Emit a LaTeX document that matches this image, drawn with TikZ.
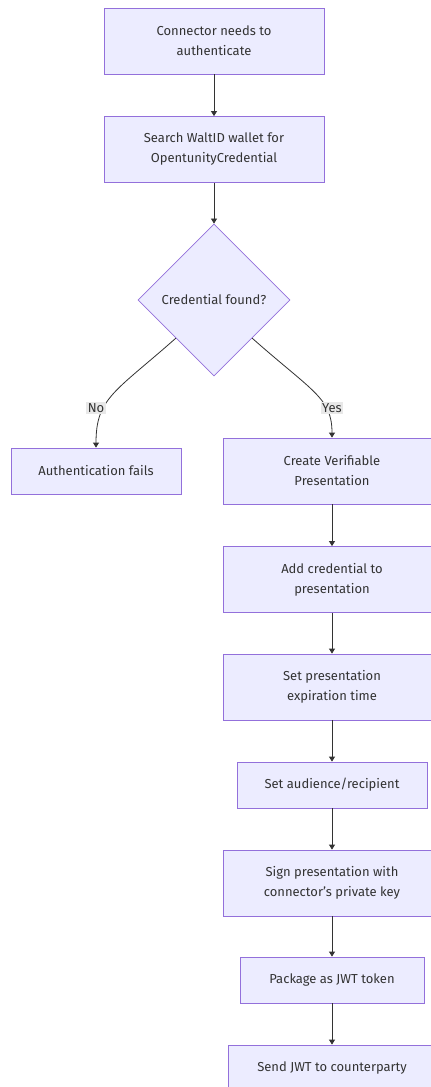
\documentclass[tikz,border=0pt]{standalone}
\usepackage{fontspec}
\setmainfont{Fira Sans}
\usetikzlibrary{shapes.geometric,arrows.meta}
\definecolor{nodefill}{HTML}{ECECFF}
\definecolor{nodeline}{HTML}{9370DB}
\definecolor{ink}{HTML}{333333}
\definecolor{labelbg}{HTML}{E8E8E8}
\tikzset{
  stepbox/.style={draw=nodeline, fill=nodefill, line width=0.8pt, rectangle,
    align=center, text=ink, inner sep=0pt,
    font=\fontsize{13}{20}\selectfont},
  decision/.style={draw=nodeline, fill=nodefill, line width=0.8pt, diamond,
    aspect=1, minimum width=152pt, minimum height=152pt, inner sep=0pt,
    text=ink, font=\fontsize{13}{20}\selectfont},
  flow/.style={draw=ink, line width=0.8pt,
    -{Triangle[length=5pt,width=6pt]}},
  edgelabel/.style={fill=labelbg, text=ink, inner sep=1.5pt,
    font=\fontsize{13}{15}\selectfont}
}
\begin{document}
\begin{tikzpicture}[x=1pt,y=-1pt]
\useasboundingbox (0,0) rectangle (431,1087);
\fill[white] (0,0) rectangle (431,1087);
\clip (0,0) rectangle (431,1087);

% main column
\node[stepbox, minimum width=220pt, minimum height=66pt] (start) at (214,41)
  {Connector needs to\\authenticate};
\node[stepbox, minimum width=220pt, minimum height=66pt] (search) at (214,149.5)
  {Search WaltID wallet for\\OpentunityCredential};
\node[decision] (found) at (214,300) {Credential found?};

% failure branch
\node[stepbox, minimum width=170pt, minimum height=46pt] (fail) at (96,471)
  {Authentication fails};

% success branch
\node[stepbox, minimum width=218pt, minimum height=66pt] (create) at (332,471)
  {Create Verifiable\\Presentation};
\node[stepbox, minimum width=218pt, minimum height=66pt] (addcred) at (332,579.5)
  {Add credential to\\presentation};
\node[stepbox, minimum width=218pt, minimum height=66pt] (expire) at (332,687)
  {Set presentation\\expiration time};
\node[stepbox, minimum width=190pt, minimum height=46pt] (audience) at (332,785)
  {Set audience/recipient};
\node[stepbox, minimum width=218pt, minimum height=66pt] (sign) at (332,883)
  {Sign presentation with\\connector{\char"0027}s private key};
\node[stepbox, minimum width=184pt, minimum height=46pt] (package) at (332,980)
  {Package as JWT token};
\node[stepbox, minimum width=208pt, minimum height=46pt] (send) at (332,1068)
  {Send JWT to counterparty};

% connectors
\draw[flow] (start) -- (search);
\draw[flow] (search) -- (found);
\draw[flow] (found.south west) .. controls (115,392) and (96,398) .. (fail.north);
\draw[flow] (found.south east) .. controls (313,392) and (332,398) .. (create.north);
\node[edgelabel] (nolabel) at (96,408) {No};
\node[edgelabel] (yeslabel) at (332,408) {Yes};
\draw[flow] (create) -- (addcred);
\draw[flow] (addcred) -- (expire);
\draw[flow] (expire) -- (audience);
\draw[flow] (audience) -- (sign);
\draw[flow] (sign) -- (package);
\draw[flow] (package) -- (send);
\end{tikzpicture}
\end{document}
